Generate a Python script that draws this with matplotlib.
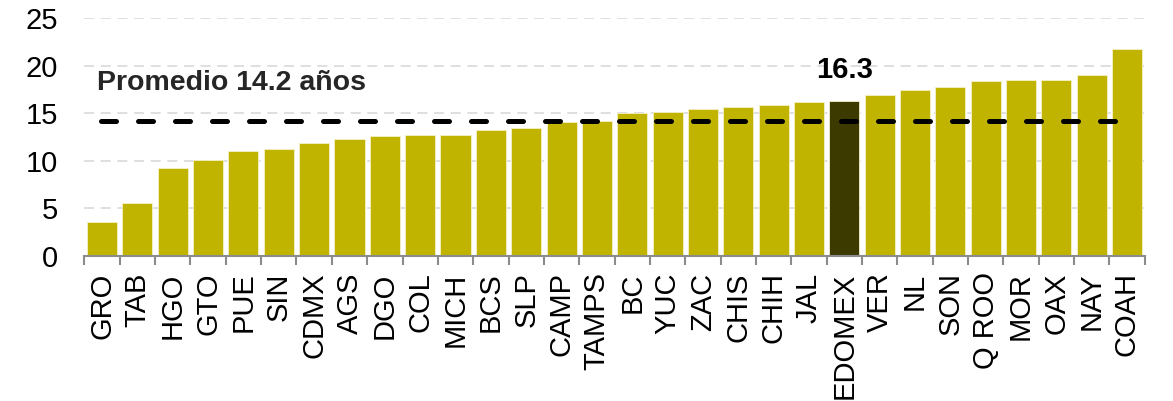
import numpy as np
import matplotlib.pyplot as plt

plt.rcParams['font.family'] = ['Liberation Sans', 'DejaVu Sans']

estados = ['GRO', 'TAB', 'HGO', 'GTO', 'PUE', 'SIN', 'CDMX', 'AGS', 'DGO', 'COL',
           'MICH', 'BCS', 'SLP', 'CAMP', 'TAMPS', 'BC', 'YUC', 'ZAC', 'CHIS', 'CHIH',
           'JAL', 'EDOMEX', 'VER', 'NL', 'SON', 'Q ROO', 'MOR', 'OAX', 'NAY', 'COAH']
anios = [3.5, 5.6, 9.2, 10.1, 11.0, 11.2, 11.9, 12.3, 12.6, 12.7,
         12.7, 13.2, 13.5, 14.1, 14.2, 15.0, 15.1, 15.5, 15.7, 15.9,
         16.2, 16.3, 16.9, 17.4, 17.8, 18.4, 18.5, 18.5, 19.0, 21.8]
promedio = 14.2
destacado = 'EDOMEX'

fig = plt.figure(figsize=(11.73, 4.01), dpi=100)
ax = fig.add_axes([0.072, 0.3623, 0.9038, 0.5921])

x = np.arange(len(estados))
colores = ['#3d3a00' if e == destacado else '#c0b400' for e in estados]
ax.bar(x, anios, width=0.85, color=colores, edgecolor='#f4f0c8', linewidth=0.6, zorder=2)

# linea del promedio
ax.hlines(promedio, -0.03, len(estados) - 1 + 0.03, colors='black', linewidth=3.6,
          linestyles=(0, (3, 4.4)), capstyle='round', zorder=3)
ax.text(-0.14, 18.2, 'Promedio %.1f años' % promedio, fontsize=20.5, fontweight='bold',
        color='#262626', ha='left', va='center')

i = estados.index(destacado)
ax.text(i, anios[i] + 1.8, '%.1f' % anios[i], fontsize=21, fontweight='bold',
        ha='center', va='bottom')

ax.set_xlim(-0.5, len(estados) - 0.5)
ax.set_ylim(0, 25)
ax.set_yticks([0, 5, 10, 15, 20, 25])
ax.yaxis.grid(True, color='#d9d9d9', linestyle=(0, (6, 4)), linewidth=1.2, zorder=0)
ax.set_axisbelow(True)

ax.set_xticks(x)
ax.set_xticklabels(estados, rotation=90, fontsize=21)
ax.set_xticks(np.arange(-0.5, len(estados)), minor=True)
ax.tick_params(axis='x', which='major', length=0, pad=12)
ax.tick_params(axis='x', which='minor', length=6.5, width=1.5, color='#8c8c8c')
ax.tick_params(axis='y', length=0, pad=19, labelsize=21)

for s in ['top', 'right', 'left']:
    ax.spines[s].set_visible(False)
ax.spines['bottom'].set_color('#8c8c8c')
ax.spines['bottom'].set_linewidth(1.5)

plt.savefig('out.png', dpi=100)
